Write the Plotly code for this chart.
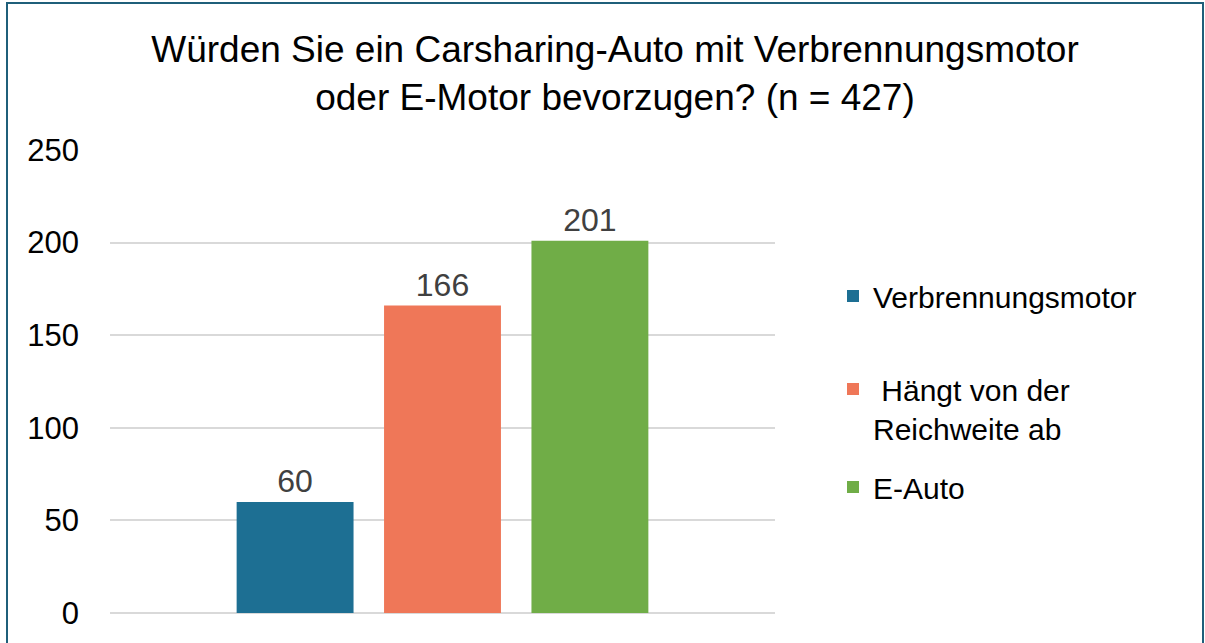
import plotly.graph_objects as go

categories = ["Verbrennungsmotor", "\u00a0Hängt von der<br>Reichweite ab", "E-Auto"]
values = [60, 166, 201]
colors = ["#1d6f93", "#ef7758", "#70ad47"]
y_ticks = [0, 50, 100, 150, 200, 250]
title_text = "Würden Sie ein Carsharing-Auto mit Verbrennungsmotor<br>oder E-Motor bevorzugen? (n = 427)"

W, H = 1205, 643
L, R, T, B = 110, 430, 150, 30
pw, ph = W - L - R, H - T - B

FONT = "Liberation Sans, Arial, sans-serif"

fig = go.Figure()
legend_names = ["legend", "legend2", "legend3"]
for cat, val, col, lg in zip(categories, values, colors, legend_names):
    fig.add_trace(go.Bar(
        x=[""], y=[val], name=cat, marker_color=col, marker_line_width=0,
        text=[str(val)], textposition="outside",
        textfont=dict(size=32, color="#404040", family=FONT),
        cliponaxis=False, legend=lg,
    ))

legend_tops = [270, 363, 461]
legend_common = dict(xref="container", yref="container", xanchor="left", yanchor="top",
                     x=833 / W, font=dict(size=30, color="#000000", family=FONT),
                     bgcolor="rgba(0,0,0,0)", valign="top", itemwidth=30)
layout_legends = {}
for lg, top in zip(legend_names, legend_tops):
    layout_legends[lg] = dict(legend_common, y=1 - top / H)

def px_to_paper_x(px):
    return (px - L) / pw

def px_to_paper_y(py):
    return (H - B - py) / ph

fig.update_layout(
    width=W, height=H,
    margin=dict(l=L, r=R, t=T, b=B, autoexpand=False),
    paper_bgcolor="white", plot_bgcolor="white",
    barmode="group", bargap=0.335, bargroupgap=0.207,
    title=dict(text=title_text, xref="container", yref="container",
               x=615 / W, xanchor="center", y=1 - 62 / H, yanchor="top",
               font=dict(size=37, color="#000000", family=FONT)),
    xaxis=dict(showticklabels=False, showgrid=False, zeroline=False, showline=False,
               ticks=""),
    yaxis=dict(range=[0, 250], tickvals=y_ticks, showgrid=True, gridcolor="#d9d9d9",
               gridwidth=1.5, zeroline=True, zerolinecolor="#d9d9d9", zerolinewidth=1.5,
               showline=False, ticks="", ticklabelstandoff=30,
               tickfont=dict(size=31, color="#000000", family=FONT)),
    showlegend=True,
    shapes=[dict(type="rect", xref="paper", yref="paper",
                 x0=px_to_paper_x(7), x1=px_to_paper_x(1203),
                 y0=px_to_paper_y(660), y1=px_to_paper_y(3),
                 line=dict(color="#1f5f7a", width=2), fillcolor="rgba(0,0,0,0)",
                 layer="below")],
    **layout_legends,
)

fig.write_html("out.html", config={"displayModeBar": False},
               post_script="document.body.style.margin='0';")
